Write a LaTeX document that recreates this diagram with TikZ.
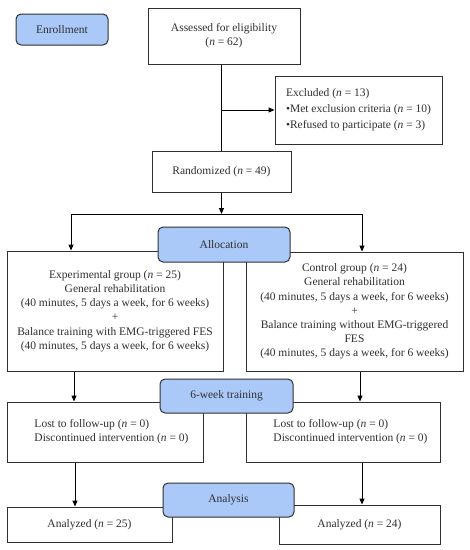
\documentclass[tikz,border=0pt]{standalone}
\usepackage{fontspec}
\setmainfont{Liberation Serif}
\usetikzlibrary{arrows.meta}
\definecolor{stagefill}{HTML}{AAC8F8}
\definecolor{edge}{HTML}{303030}
\begin{document}
\begin{tikzpicture}[x=1pt,y=-1pt,
  box/.style={draw=edge,line width=1pt,fill=white,inner sep=0pt,align=center,
    text=edge,font=\fontsize{11.5}{14.2}\selectfont},
  stage/.style={box,fill=stagefill,rounded corners=5pt},
  arr/.style={draw=black,line width=1pt,-{Triangle[length=6pt,width=5pt]}},
  ln/.style={draw=black,line width=1pt}]
\useasboundingbox (0,0) rectangle (470,550);
% boxes
\node[stage,minimum width=92pt,minimum height=31pt] (enroll) at (62,29.5) {Enrollment};
\node[box,minimum width=152pt,minimum height=56pt] (assess) at (224,36) {Assessed for eligibility\\(\textit{n} = 62)};
\node[box,minimum width=167pt,minimum height=68pt,align=left] (excl) at (358.5,110) {Excluded (\textit{n} = 13)\\[2pt]•Met exclusion criteria (\textit{n} = 10)\\[2pt]•Refused to participate (\textit{n} = 3)};
\node[box,minimum width=139pt,minimum height=41pt] (rand) at (221.5,171.5) {Randomized (\textit{n} = 49)};
\node[box,minimum width=216pt,minimum height=120pt] (expg) at (115,311) {Experimental group (\textit{n} = 25)\\General rehabilitation\\(40 minutes, 5 days a week, for 6 weeks)\\+\\Balance training with EMG-triggered FES\\(40 minutes, 5 days a week, for 6 weeks)};
\node[box,minimum width=217pt,minimum height=119pt] (ctrl) at (354.5,311.5) {Control group (\textit{n} = 24)\\General rehabilitation\\(40 minutes, 5 days a week, for 6 weeks)\\+\\Balance training without EMG-triggered\\FES\\(40 minutes, 5 days a week, for 6 weeks)};
\node[box,minimum width=196pt,minimum height=60pt] (lostL) at (105,432) {\begin{tabular}{@{\hspace{13pt}}l@{}}Lost to follow-up (\textit{n} = 0)\\Discontinued intervention (\textit{n} = 0)\end{tabular}};
\node[box,minimum width=194pt,minimum height=60pt] (lostR) at (343,432) {\begin{tabular}{@{\hspace{15pt}}l@{}}Lost to follow-up (\textit{n} = 0)\\Discontinued intervention (\textit{n} = 0)\end{tabular}};
\node[box,minimum width=165pt,minimum height=35pt] (anL) at (89.5,524.5) {Analyzed (\textit{n} = 25)};
\node[box,minimum width=161pt,minimum height=39pt] (anR) at (359.5,524.5) {Analyzed (\textit{n} = 24)};
% stage labels on top
\node[stage,minimum width=132pt,minimum height=35pt] (alloc) at (224,244.5) {Allocation};
\node[stage,minimum width=133pt,minimum height=34pt] (train) at (226.5,396) {6-week training};
\node[stage,minimum width=131pt,minimum height=34pt] (analysis) at (228.5,500) {Analysis};
% connectors
\coordinate (split) at (221.5,214);
\coordinate (sL) at (71,214);
\coordinate (sR) at (362,214);
\draw[ln] (assess.south -| rand.north) -- (rand.north);
\draw[arr] (rand.north |- excl.west) -- (excl.west);
\draw[arr] (rand.south) -- (split);
\draw[ln] (sL) -- (sR);
\draw[arr] (sL) -- (sL |- expg.north);
\draw[arr] (sR) -- (sR |- ctrl.north);
\draw[arr] ([xshift=-41pt]expg.south) -- ([xshift=-41pt]expg.south |- lostL.north);
\draw[arr] ([xshift=5.5pt]ctrl.south) -- ([xshift=5.5pt]ctrl.south |- lostR.north);
\draw[arr] ([xshift=-30pt]lostL.south) -- ([xshift=-30pt]lostL.south |- anL.north);
\draw[arr] ([xshift=19pt]lostR.south) -- ([xshift=19pt]lostR.south |- anR.north);
\end{tikzpicture}
\end{document}
